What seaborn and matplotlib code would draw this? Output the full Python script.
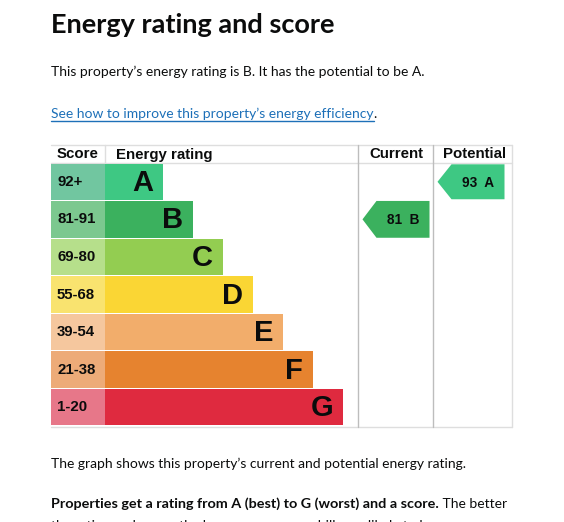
import numpy as np
import matplotlib
matplotlib.use("Agg")
import matplotlib.pyplot as plt
import seaborn as sns

# ---- data ----
bands = ["A", "B", "C", "D", "E", "F", "G"]
score_ranges = ["92+", "81-91", "69-80", "55-68", "39-54", "21-38", "1-20"]
band_floor = [92, 81, 69, 55, 39, 21, 1]
band_colors = ["#3ec883", "#3bb15e", "#93cd51", "#fad634", "#f2ad6b", "#e6832f", "#df2a3f"]
score_colors = ["#71c6a0", "#7cc88f", "#b6df8b", "#f9e36f", "#f5c79e", "#edab78", "#e77789"]
current_score = 81
potential_score = 93

INK = "#0b0c0c"
LINK = "#1d70b8"
BODY_FONT = "Lato"
TABLE_FONT = "Liberation Sans"

sns.set_theme(style="white")
plt.rcParams["font.family"] = [BODY_FONT, "DejaVu Sans"]

W, H = 564, 522
fig = plt.figure(figsize=(W / 100, H / 100), dpi=100)
fig.patch.set_facecolor("white")

# page axes in pixel coordinates for text and table rules
page = fig.add_axes([0, 0, 1, 1], zorder=0)
page.set_xlim(0, W)
page.set_ylim(H, 0)
page.axis("off")

# chart body axes (the seven rows)
left, right, top, bottom = 51, 512, 163, 426
ax = fig.add_axes([left / W, (H - bottom) / H, (right - left) / W, (bottom - top) / H], zorder=1)
ax.patch.set_alpha(0)

score_w = 54
rank = np.arange(len(bands))
bar_len = 58 + 30 * rank

sns.barplot(x=bar_len, y=bands, hue=bands, palette=band_colors, orient="h",
            width=0.97, legend=False, saturation=1, ax=ax)
ax.barh(rank, score_w, left=-score_w, height=0.97, color=score_colors, linewidth=0)
for p in ax.patches:
    p.set_linewidth(0)

ax.set_xlim(-score_w, right - left - score_w)
ax.set_ylim(len(bands) - 0.5, -0.5)
ax.axis("off")

for i, (b, s, L) in enumerate(zip(bands, score_ranges, bar_len)):
    ax.text(L - 10, i + 0.03, b, ha="right", va="center", fontsize=21,
            fontweight="bold", family=TABLE_FONT, color=INK)
    ax.text(-score_w + 6, i, s, ha="left", va="center", fontsize=10.8,
            fontweight="bold", family=TABLE_FONT, color=INK)

# current / potential arrows
col_cur = 358 - left - score_w
col_pot = 433 - left - score_w


def band_of(score):
    for i, f in enumerate(band_floor):
        if score >= f:
            return i
    return len(band_floor) - 1


def arrow(score, col_x, h):
    i = band_of(score)
    x0 = col_x + 4.5
    x1 = x0 + 67
    tip = 14
    ys = [i - h / 2, i - h / 2, i + h / 2, i + h / 2, i]
    xs = [x0 + tip, x1, x1, x0 + tip, x0]
    ax.fill(xs, ys, color=band_colors[i], linewidth=0)
    ax.text((x0 + tip + x1) / 2, i + 0.02, f"{score}  {bands[i]}", ha="center", va="center",
            fontsize=9.8, fontweight="bold", family=TABLE_FONT, color=INK)


arrow(current_score, col_cur, 0.98)
arrow(potential_score, col_pot, 0.93)

# table rules and header
light = "#dedede"
mid = "#bdbdbd"
page.plot([left, right], [145, 145], color=light, lw=1)
page.plot([left, right], [163, 163], color=light, lw=1)
page.plot([left, right], [426.5, 426.5], color=light, lw=1)
page.plot([right, right], [145, 426.5], color=light, lw=1)
page.plot([105, 105], [145, 163], color=light, lw=1)
page.plot([358, 358], [145, 426.5], color=mid, lw=1)
page.plot([433, 433], [145, 426.5], color=mid, lw=1)

hdr_y = 154.5
page.text(78, hdr_y, "Score", ha="center", va="center", fontsize=10.8,
          fontweight="bold", family=TABLE_FONT, color=INK)
page.text(116, hdr_y, "Energy rating", ha="left", va="center", fontsize=10.8,
          fontweight="bold", family=TABLE_FONT, color=INK)
page.text(396, hdr_y, "Current", ha="center", va="center", fontsize=10.8,
          fontweight="bold", family=TABLE_FONT, color=INK)
page.text(475, hdr_y, "Potential", ha="center", va="center", fontsize=10.8,
          fontweight="bold", family=TABLE_FONT, color=INK)

# page text
body = 10.0
page.text(51, 33, "Energy rating and score", fontsize=19.5, fontweight="bold",
          va="baseline", color=INK)
page.text(51, 76, "This property\u2019s energy rating is B. It has the potential to be A.",
          fontsize=body, va="baseline", color=INK)
link = page.text(51, 118, "See how to improve this property\u2019s energy efficiency",
                 fontsize=body, va="baseline", color=LINK)
page.text(51, 468, "The graph shows this property\u2019s current and potential energy rating.",
          fontsize=body, va="baseline", color=INK)
strong = page.text(51, 508, "Properties get a rating from A (best) to G (worst) and a score.",
                   fontsize=10.4, fontweight="bold", va="baseline", color=INK)
page.text(51, 530, "the rating and score, the lower your energy bills are likely to be.",
          fontsize=body, va="baseline", color=INK)

fig.canvas.draw()
bb = link.get_window_extent()
page.plot([51, bb.x1], [121, 121], color=LINK, lw=1)
page.text(bb.x1, 118, ".", fontsize=body, va="baseline", color=INK)
bb2 = strong.get_window_extent()
page.text(bb2.x1, 508, " The better", fontsize=body, va="baseline", color=INK)

fig.savefig("out.png", dpi=100, facecolor="white")
